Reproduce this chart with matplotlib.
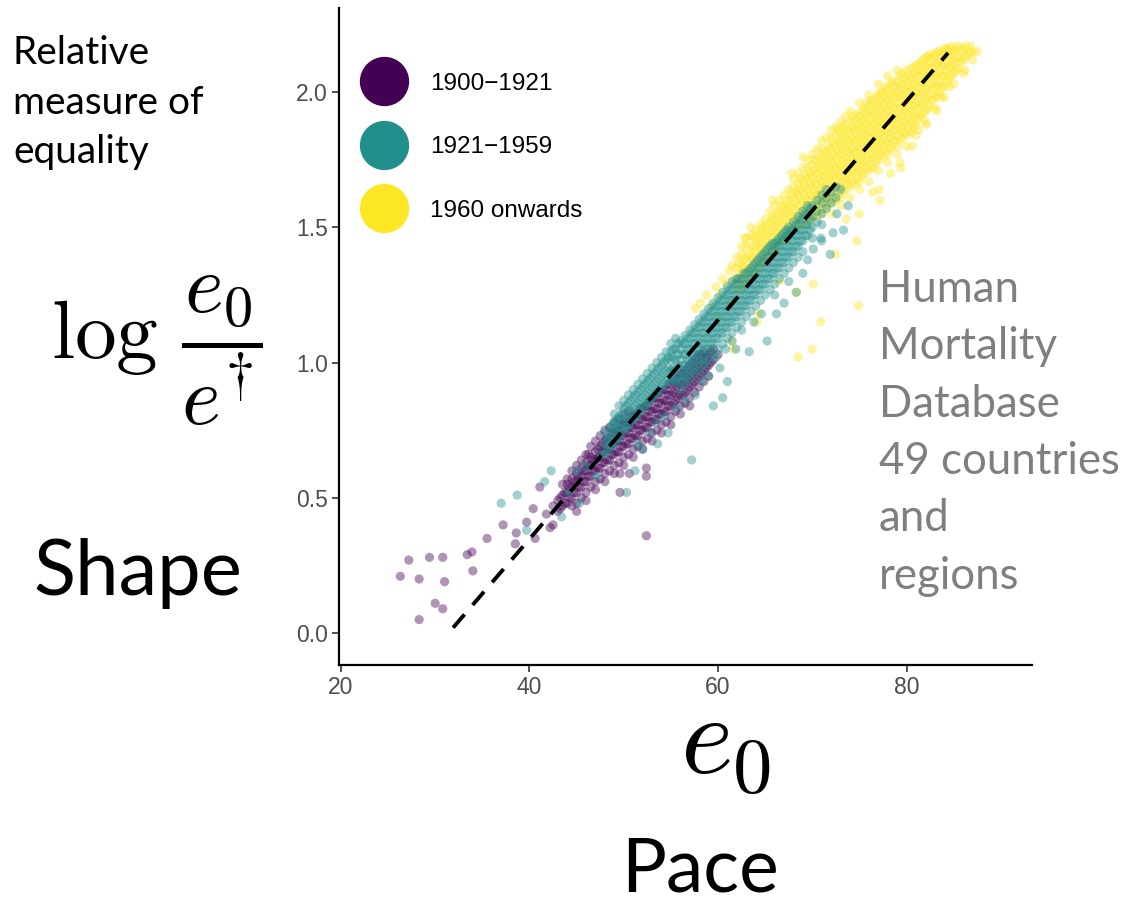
import matplotlib
matplotlib.use("Agg")
import matplotlib.pyplot as plt
from matplotlib.lines import Line2D
import numpy as np

# period labels and colours (viridis)
periods = ["1900\u22121921", "1921\u22121959", "1960 onwards"]
period_colors = ["#440154", "#21908C", "#FDE725"]

# (e0, [log(e0/e_dagger) values]), one list per period
early_cols = [
    # scattered early years
    (26.3, [0.21]), (27.2, [0.27]), (28.3, [0.05, 0.20]), (29.4, [0.28]),
    (30.0, [0.11]), (30.8, [0.09, 0.28]), (31.0, [0.19]), (33.4, [0.29]),
    (33.9, [0.30]), (34.0, [0.23]), (35.5, [0.35]), (37.2, [0.40]),
    (38.5, [0.33]), (38.6, [0.37]), (39.7, [0.41]), (40.4, [0.46]),
    (40.6, [0.35]), (41.1, [0.54]), (41.8, [0.44]), (42.2, [0.39]),
    (42.5, [0.40, 0.47]), (49.6, [0.52, 0.59]), (50.6, [0.59]), (52.4, [0.36, 0.58, 0.61]),
    # main band
    (43.00, [0.45, 0.49]), (43.25, [0.46, 0.50]), (43.50, [0.47, 0.51]), (43.75, [0.48, 0.52]),
    (44.00, [0.48, 0.52, 0.55]), (44.25, [0.50, 0.54]), (44.50, [0.50, 0.54, 0.57]),
    (44.75, [0.52, 0.56]), (45.00, [0.52, 0.56, 0.59]), (45.25, [0.54, 0.58]),
    (45.50, [0.54, 0.58, 0.61]), (45.75, [0.56, 0.60]), (46.00, [0.56, 0.60, 0.63]),
    (46.25, [0.58, 0.62, 0.66]), (46.50, [0.58, 0.62, 0.65]), (46.75, [0.60, 0.64]),
    (47.00, [0.60, 0.64, 0.67]), (47.25, [0.61, 0.65, 0.68]), (47.50, [0.61, 0.65, 0.69]),
    (47.75, [0.63, 0.67, 0.70]), (48.00, [0.63, 0.67, 0.71]), (48.25, [0.64, 0.68, 0.72]),
    (48.50, [0.64, 0.68, 0.72]), (48.75, [0.66, 0.70, 0.74]), (49.00, [0.66, 0.70, 0.74]),
    (49.25, [0.67, 0.71, 0.75]), (49.50, [0.67, 0.71, 0.75, 0.79]), (49.75, [0.69, 0.73, 0.77]),
    (50.00, [0.69, 0.73, 0.77]), (50.25, [0.70, 0.74, 0.78]), (50.50, [0.70, 0.74, 0.78, 0.82]),
    (50.75, [0.72, 0.76, 0.80]), (51.00, [0.72, 0.76, 0.80]), (51.25, [0.73, 0.77, 0.81]),
    (51.50, [0.73, 0.77, 0.81]), (51.75, [0.75, 0.79, 0.83]), (52.00, [0.75, 0.79, 0.83]),
    (52.25, [0.76, 0.80, 0.84]), (52.50, [0.76, 0.80, 0.84]), (52.75, [0.78, 0.82, 0.86]),
    (53.00, [0.78, 0.82, 0.86]), (53.25, [0.79, 0.83, 0.87]), (53.50, [0.79, 0.83, 0.87]),
    (53.75, [0.81, 0.85, 0.89]), (54.00, [0.81, 0.85, 0.89]), (54.25, [0.82, 0.86, 0.90]),
    (54.50, [0.82, 0.86, 0.90]), (54.75, [0.84, 0.88, 0.92]), (55.00, [0.84, 0.88, 0.92]),
    (55.25, [0.85, 0.89, 0.93]), (55.50, [0.86, 0.90, 0.94]), (55.75, [0.87, 0.91, 0.95]),
    (56.00, [0.88, 0.92, 0.96]), (56.25, [0.88, 0.92, 0.96]), (56.50, [0.89, 0.93, 0.97]),
    (56.75, [0.90, 0.94, 0.98]), (57.00, [0.91, 0.95, 0.99]), (57.25, [0.92, 0.96, 1.00]),
    (57.50, [0.93, 0.97, 1.01]), (57.75, [0.94, 0.98, 1.02]), (58.00, [0.95, 0.99, 1.03]),
    (58.25, [0.96, 1.00, 1.03]), (58.50, [0.97, 1.01, 1.04]), (58.75, [0.98, 1.02]),
    (59.00, [0.99, 1.03]), (59.25, [1.00, 1.04]), (59.50, [1.01, 1.05]), (60.00, [1.03]),
    # fuzzy edges of the band
    (43.5, [0.55]), (44.0, [0.57]), (44.5, [0.47, 0.60]), (45.0, [0.45, 0.48, 0.62]),
    (45.5, [0.50, 0.64]), (46.0, [0.49, 0.52, 0.66]), (46.5, [0.54, 0.69]),
    (47.0, [0.53, 0.56, 0.71]), (47.5, [0.57, 0.73]), (48.0, [0.56, 0.59, 0.75]),
    (48.5, [0.60, 0.76]), (49.0, [0.59, 0.62, 0.78]), (49.5, [0.63]), (50.0, [0.62, 0.65, 0.81]),
    (50.5, [0.66]), (51.0, [0.65, 0.68]), (51.5, [0.69]), (52.0, [0.68, 0.71]),
    (52.5, [0.72]), (53.0, [0.71, 0.74]), (53.5, [0.75]), (54.0, [0.74, 0.77]),
    (54.5, [0.78]), (55.0, [0.77, 0.80]), (55.5, [0.82]), (56.0, [0.81, 0.84]),
    (56.5, [0.85]), (57.0, [0.84, 0.87]), (57.5, [0.89]), (58.0, [0.91]), (58.5, [0.93]),
    (59.0, [0.95]),
]

mid_cols = [
    # scattered
    (37.0, [0.48]), (38.7, [0.51]), (39.7, [0.38]), (41.6, [0.56]), (42.3, [0.60]),
    (43.4, [0.43]), (44.2, [0.52]), (45.0, [0.60]), (45.3, [0.48]), (46.0, [0.62]),
    (47.1, [0.58]), (47.6, [0.66]), (50.3, [0.52]), (51.2, [0.60]), (51.5, [0.70]),
    (52.0, [0.68]), (52.8, [0.74]), (53.5, [0.78]), (53.6, [0.70]), (54.3, [0.80]),
    (54.7, [0.74]), (55.6, [0.83]), (57.2, [0.64]), (56.5, [0.86]), (57.6, [0.88]),
    (58.3, [0.93]), (59.5, [0.84]), (60.5, [0.87]), (61.0, [0.93]), (60.2, [0.98]),
    (59.0, [0.95]), (58.5, [1.00]), (59.8, [1.02]), (60.8, [1.05]), (61.5, [1.08]),
    (61.9, [1.05]), (62.5, [1.12]), (63.3, [1.04]), (63.8, [1.15]), (64.6, [1.18]),
    (65.2, [1.08]), (66.0, [1.25]), (66.2, [1.18]), (67.0, [1.22]), (67.5, [1.30]),
    (68.3, [1.26]), (69.0, [1.33]), (69.5, [1.38]), (70.1, [1.42]), (70.9, [1.46]),
    (71.0, [1.45]), (71.9, [1.40]), (72.2, [1.48]), (72.6, [1.55]), (73.3, [1.49]),
    (73.8, [1.58]),
    # main band
    (48.00, [0.66, 0.70, 0.74]), (48.25, [0.68, 0.72]), (48.50, [0.68, 0.72, 0.76]),
    (48.75, [0.70, 0.74, 0.77]), (49.00, [0.70, 0.74, 0.78]), (49.25, [0.72, 0.76, 0.79]),
    (49.50, [0.72, 0.76, 0.80]), (49.75, [0.74, 0.78, 0.81]), (50.00, [0.75, 0.79, 0.83]),
    (50.25, [0.76, 0.80, 0.84]), (50.50, [0.77, 0.81, 0.85]), (50.75, [0.78, 0.82, 0.86]),
    (51.00, [0.79, 0.83, 0.87]), (51.25, [0.80, 0.84, 0.88]), (51.50, [0.81, 0.85, 0.89]),
    (51.75, [0.82, 0.86, 0.90]), (52.00, [0.83, 0.87, 0.91]), (52.25, [0.84, 0.88, 0.92]),
    (52.50, [0.85, 0.89, 0.93]), (52.75, [0.86, 0.90, 0.94]), (53.00, [0.87, 0.91, 0.95]),
    (53.25, [0.88, 0.92, 0.96]), (53.50, [0.89, 0.93, 0.97]), (53.75, [0.90, 0.94, 0.98]),
    (54.00, [0.91, 0.95, 0.99]), (54.25, [0.92, 0.96, 1.00]), (54.50, [0.93, 0.97, 1.01]),
    (54.75, [0.94, 0.98, 1.02]), (55.00, [0.93, 0.97, 1.01, 1.04]),
    (55.25, [0.94, 0.98, 1.02, 1.05]), (55.50, [0.93, 0.97, 1.01, 1.05]),
    (55.75, [0.95, 0.99, 1.03, 1.07]), (56.00, [0.93, 0.97, 1.01, 1.05, 1.08]),
    (56.25, [0.95, 0.99, 1.03, 1.07]), (56.50, [0.95, 0.99, 1.03, 1.07, 1.10]),
    (56.75, [0.97, 1.01, 1.05, 1.09]), (57.00, [0.97, 1.01, 1.05, 1.09, 1.12]),
    (57.25, [0.99, 1.03, 1.07, 1.11]), (57.50, [0.99, 1.03, 1.07, 1.11, 1.14]),
    (57.75, [1.01, 1.05, 1.09, 1.13]), (58.00, [1.01, 1.05, 1.09, 1.13, 1.16]),
    (58.25, [1.03, 1.07, 1.11, 1.15]), (58.50, [1.03, 1.07, 1.11, 1.15, 1.18]),
    (58.75, [1.05, 1.09, 1.13, 1.17]), (59.00, [1.05, 1.09, 1.13, 1.17, 1.20]),
    (59.25, [1.07, 1.11, 1.15, 1.19]), (59.50, [1.07, 1.11, 1.15, 1.19, 1.22]),
    (59.75, [1.09, 1.13, 1.17, 1.21]), (60.00, [1.09, 1.13, 1.17, 1.21, 1.24]),
    (60.25, [1.11, 1.15, 1.19, 1.23]), (60.50, [1.11, 1.15, 1.19, 1.23, 1.26]),
    (60.75, [1.13, 1.17, 1.21, 1.25]), (61.00, [1.13, 1.17, 1.21, 1.25, 1.28]),
    (61.25, [1.15, 1.19, 1.23, 1.27]), (61.50, [1.15, 1.19, 1.23, 1.27, 1.30]),
    (61.75, [1.17, 1.21, 1.25, 1.29]), (62.00, [1.17, 1.21, 1.25, 1.29, 1.31]),
    (62.25, [1.19, 1.23, 1.27, 1.31]), (62.50, [1.19, 1.23, 1.27, 1.31]),
    (62.75, [1.21, 1.25, 1.29, 1.33]), (63.00, [1.21, 1.25, 1.29, 1.33]),
    (63.25, [1.23, 1.27, 1.31, 1.34]), (63.50, [1.23, 1.27, 1.31, 1.35]),
    (63.75, [1.25, 1.29, 1.33, 1.36]), (64.00, [1.25, 1.29, 1.33, 1.37]),
    (64.25, [1.27, 1.31, 1.35, 1.38]), (64.50, [1.27, 1.31, 1.35, 1.39]),
    (64.75, [1.29, 1.33, 1.37, 1.40]), (65.00, [1.29, 1.33, 1.37, 1.41]),
    (65.25, [1.31, 1.35, 1.39, 1.42]), (65.50, [1.31, 1.35, 1.39, 1.43]),
    (65.75, [1.33, 1.37, 1.41, 1.44]), (66.00, [1.33, 1.37, 1.41, 1.44]),
    (66.25, [1.35, 1.39, 1.43, 1.45]), (66.50, [1.35, 1.39, 1.43, 1.46]),
    (66.75, [1.37, 1.41, 1.45, 1.47]), (67.00, [1.37, 1.41, 1.45, 1.48]),
    (67.25, [1.39, 1.43, 1.47, 1.49]), (67.50, [1.39, 1.43, 1.47, 1.50]),
    (67.75, [1.41, 1.45, 1.49]), (68.00, [1.41, 1.45, 1.49, 1.52]),
    (68.25, [1.43, 1.47, 1.51]), (68.50, [1.43, 1.47, 1.51, 1.54]),
    (68.75, [1.45, 1.49, 1.53]), (69.00, [1.45, 1.49, 1.53, 1.56]),
    (69.25, [1.47, 1.51, 1.55]), (69.50, [1.47, 1.51, 1.55, 1.58]),
    (69.75, [1.49, 1.53, 1.57]), (70.00, [1.50, 1.54, 1.58]),
    (70.50, [1.52, 1.56, 1.60]), (71.00, [1.55, 1.59, 1.62]),
    (71.50, [1.57, 1.61, 1.64]), (72.00, [1.59, 1.63]), (72.50, [1.61, 1.65]), (73.00, [1.64]),
    # fuzzy edges of the band
    (49.0, [0.81]), (49.5, [0.84]), (50.0, [0.86]), (50.5, [0.88]), (51.0, [0.90]),
    (51.5, [0.92]), (52.0, [0.94]), (52.5, [0.96]), (53.0, [0.98]), (53.5, [1.00]),
    (54.0, [1.02]), (54.5, [1.04]), (55.0, [1.07]), (55.5, [1.09]),
    (56.0, [0.90]), (56.5, [0.92]), (57.0, [0.94]), (57.5, [0.96]), (58.0, [0.97]),
    (58.5, [0.99]), (59.0, [1.01]), (59.5, [1.03]), (60.0, [1.05]), (60.5, [1.07]),
    (61.0, [1.09]), (61.5, [1.11]), (62.0, [1.13]), (62.5, [1.15]), (63.0, [1.17]),
    (63.5, [1.19]), (64.0, [1.21]), (64.5, [1.23]), (65.0, [1.25]), (65.5, [1.27]),
    (66.0, [1.29]), (66.5, [1.31]), (67.0, [1.33]), (67.5, [1.35]), (68.0, [1.37]),
    (68.5, [1.39]), (69.0, [1.41]), (70.0, [1.46]), (71.0, [1.51]),
]

late_cols = [
    # scattered
    (57.6, [1.20]), (58.1, [1.22]), (58.8, [1.25]), (59.3, [1.21]), (59.8, [1.28]),
    (60.0, [1.17]), (60.2, [1.25]), (60.5, [1.31]), (60.9, [1.29]), (61.2, [1.34]),
    (61.3, [1.22]), (61.6, [1.05, 1.31]), (61.4, [1.08]), (64.1, [1.15]), (64.3, [1.18]),
    (66.5, [1.30]), (68.3, [1.26]), (68.5, [1.02]), (70.0, [1.05]), (70.1, [1.29]),
    (70.9, [1.15]), (72.5, [1.40]), (73.6, [1.53]), (74.7, [1.45]), (74.9, [1.21]),
    (75.0, [1.55]), (76.4, [1.63]), (77.1, [1.64]), (77.2, [1.60]), (78.3, [1.70]),
    (79.3, [1.74]), (79.4, [1.72]), (80.6, [1.80]), (81.3, [1.86]), (82.1, [1.88]),
    (83.2, [1.93]), (83.7, [1.98]), (84.6, [2.02]), (86.2, [2.08]), (87.0, [2.12]),
    (87.5, [2.15]), (62.8, [1.46]), (63.5, [1.50]), (65.8, [1.60]), (67.8, [1.70]),
    (69.0, [1.76]),
    # main band
    (62.00, [1.27, 1.31, 1.35]), (62.25, [1.29, 1.33, 1.37]), (62.50, [1.28, 1.32, 1.36, 1.40]),
    (62.75, [1.30, 1.34, 1.38]), (63.00, [1.31, 1.35, 1.39, 1.43]), (63.25, [1.32, 1.36, 1.40]),
    (63.50, [1.31, 1.35, 1.39, 1.43]), (63.75, [1.34, 1.38, 1.42, 1.46]),
    (64.00, [1.33, 1.37, 1.41, 1.45]), (64.25, [1.35, 1.39, 1.43, 1.47]),
    (64.50, [1.36, 1.40, 1.44, 1.48]), (64.75, [1.38, 1.42, 1.46, 1.50]),
    (65.00, [1.37, 1.41, 1.45, 1.49]), (65.25, [1.39, 1.43, 1.47, 1.51]),
    (65.50, [1.40, 1.44, 1.48, 1.52]), (65.75, [1.42, 1.46, 1.50, 1.54]),
    (66.00, [1.41, 1.45, 1.49, 1.53]), (66.25, [1.43, 1.47, 1.51, 1.55]),
    (66.50, [1.44, 1.48, 1.52, 1.56]), (66.75, [1.46, 1.50, 1.54, 1.58]),
    (67.00, [1.45, 1.49, 1.53, 1.57]), (67.25, [1.47, 1.51, 1.55, 1.59]),
    (67.50, [1.48, 1.52, 1.56, 1.60]), (67.75, [1.50, 1.54, 1.58, 1.62]),
    (68.00, [1.49, 1.53, 1.57, 1.61, 1.65]), (68.25, [1.51, 1.55, 1.59, 1.63]),
    (68.50, [1.50, 1.54, 1.58, 1.62, 1.66]), (68.75, [1.52, 1.56, 1.60, 1.64, 1.68]),
    (69.00, [1.51, 1.55, 1.59, 1.63, 1.67]), (69.25, [1.53, 1.57, 1.61, 1.65, 1.69]),
    (69.50, [1.52, 1.56, 1.60, 1.64, 1.68, 1.72]), (69.75, [1.54, 1.58, 1.62, 1.66, 1.70]),
    (70.00, [1.53, 1.57, 1.61, 1.65, 1.69, 1.73]), (70.25, [1.55, 1.59, 1.63, 1.67, 1.71, 1.75]),
    (70.50, [1.54, 1.58, 1.62, 1.66, 1.70, 1.74]), (70.75, [1.56, 1.60, 1.64, 1.68, 1.72, 1.76]),
    (71.00, [1.55, 1.59, 1.63, 1.67, 1.71, 1.75, 1.79]),
    (71.25, [1.57, 1.61, 1.65, 1.69, 1.73, 1.77]),
    (71.50, [1.58, 1.62, 1.66, 1.70, 1.74, 1.78]),
    (71.75, [1.60, 1.64, 1.68, 1.72, 1.76, 1.80]),
    (72.00, [1.59, 1.63, 1.67, 1.71, 1.75, 1.79, 1.83]),
    (72.25, [1.61, 1.65, 1.69, 1.73, 1.77, 1.81]),
    (72.50, [1.60, 1.64, 1.68, 1.72, 1.76, 1.80, 1.84]),
    (72.75, [1.62, 1.66, 1.70, 1.74, 1.78, 1.82, 1.86]),
    (73.00, [1.61, 1.65, 1.69, 1.73, 1.77, 1.81, 1.85]),
    (73.25, [1.63, 1.67, 1.71, 1.75, 1.79, 1.83, 1.87]),
    (73.50, [1.64, 1.68, 1.72, 1.76, 1.80, 1.84, 1.88]),
    (73.75, [1.66, 1.70, 1.74, 1.78, 1.82, 1.86]),
    (74.00, [1.65, 1.69, 1.73, 1.77, 1.81, 1.85, 1.89]),
    (74.25, [1.67, 1.71, 1.75, 1.79, 1.83, 1.87, 1.91]),
    (74.50, [1.66, 1.70, 1.74, 1.78, 1.82, 1.86, 1.90]),
    (74.75, [1.68, 1.72, 1.76, 1.80, 1.84, 1.88, 1.92]),
    (75.00, [1.67, 1.71, 1.75, 1.79, 1.83, 1.87, 1.91]),
    (75.25, [1.69, 1.73, 1.77, 1.81, 1.85, 1.89, 1.93]),
    (75.50, [1.70, 1.74, 1.78, 1.82, 1.86, 1.90, 1.94]),
    (75.75, [1.72, 1.76, 1.80, 1.84, 1.88, 1.92, 1.96]),
    (76.00, [1.71, 1.75, 1.79, 1.83, 1.87, 1.91, 1.95]),
    (76.25, [1.73, 1.77, 1.81, 1.85, 1.89, 1.93, 1.97]),
    (76.50, [1.72, 1.76, 1.80, 1.84, 1.88, 1.92, 1.96]),
    (76.75, [1.74, 1.78, 1.82, 1.86, 1.90, 1.94, 1.98]),
    (77.00, [1.75, 1.79, 1.83, 1.87, 1.91, 1.95, 1.99]),
    (77.25, [1.77, 1.81, 1.85, 1.89, 1.93, 1.97, 2.00]),
    (77.50, [1.76, 1.80, 1.84, 1.88, 1.92, 1.96, 2.00]),
    (77.75, [1.78, 1.82, 1.86, 1.90, 1.94, 1.98, 2.02]),
    (78.00, [1.77, 1.81, 1.85, 1.89, 1.93, 1.97, 2.01]),
    (78.25, [1.79, 1.83, 1.87, 1.91, 1.95, 1.99, 2.03]),
    (78.50, [1.80, 1.84, 1.88, 1.92, 1.96, 2.00, 2.04]),
    (78.75, [1.82, 1.86, 1.90, 1.94, 1.98, 2.02]),
    (79.00, [1.80, 1.84, 1.88, 1.92, 1.96, 2.00, 2.04]),
    (79.25, [1.82, 1.86, 1.90, 1.94, 1.98, 2.02, 2.06]),
    (79.50, [1.83, 1.87, 1.91, 1.95, 1.99, 2.03, 2.07]),
    (79.75, [1.85, 1.89, 1.93, 1.97, 2.01, 2.05]),
    (80.00, [1.84, 1.88, 1.92, 1.96, 2.00, 2.04, 2.08]),
    (80.25, [1.86, 1.90, 1.94, 1.98, 2.02, 2.06]),
    (80.50, [1.85, 1.89, 1.93, 1.97, 2.01, 2.05, 2.09]),
    (80.75, [1.87, 1.91, 1.95, 1.99, 2.03, 2.07]),
    (81.00, [1.88, 1.92, 1.96, 2.00, 2.04, 2.08, 2.10]),
    (81.25, [1.90, 1.94, 1.98, 2.02, 2.06, 2.10]),
    (81.50, [1.91, 1.95, 1.99, 2.03, 2.07, 2.11]),
    (81.75, [1.92, 1.96, 2.00, 2.04, 2.08, 2.12]),
    (82.00, [1.93, 1.97, 2.01, 2.05, 2.09, 2.13]),
    (82.25, [1.94, 1.98, 2.02, 2.06, 2.10, 2.13]),
    (82.50, [1.95, 1.99, 2.03, 2.07, 2.11, 2.14]),
    (82.75, [1.97, 2.01, 2.05, 2.09, 2.13]), (83.00, [1.98, 2.02, 2.06, 2.10, 2.14]),
    (83.25, [1.99, 2.03, 2.07, 2.11, 2.15]), (83.50, [2.00, 2.04, 2.08, 2.12, 2.15]),
    (83.75, [2.02, 2.06, 2.10, 2.14]), (84.00, [2.02, 2.06, 2.10, 2.14, 2.16]),
    (84.25, [2.04, 2.08, 2.12, 2.16]), (84.50, [2.05, 2.09, 2.13, 2.16]),
    (84.75, [2.06, 2.10, 2.14, 2.17]), (85.00, [2.07, 2.11, 2.15]),
    (85.25, [2.08, 2.12, 2.16]), (85.50, [2.09, 2.13, 2.17]), (85.75, [2.11, 2.15]),
    (86.00, [2.12, 2.16]), (86.25, [2.13, 2.17]), (86.50, [2.14]), (86.75, [2.15, 2.17]),
    (87.00, [2.15]),
    # fuzzy edges of the band
    (61.5, [1.36]), (62.0, [1.39]), (62.5, [1.43]), (63.0, [1.46]), (63.5, [1.47]),
    (64.0, [1.49]), (64.5, [1.51]), (65.0, [1.53]), (65.5, [1.56]), (66.0, [1.58]),
    (66.5, [1.60]), (67.0, [1.62]), (67.5, [1.64]), (68.0, [1.68]), (68.5, [1.70]),
    (69.0, [1.72]), (69.5, [1.75]), (70.0, [1.77]), (70.5, [1.79]), (71.0, [1.82]),
    (71.5, [1.83]), (72.0, [1.55, 1.86]), (72.5, [1.87]), (73.0, [1.58, 1.89]),
    (73.5, [1.91]), (74.0, [1.61, 1.93]), (75.0, [1.64, 1.96]), (76.0, [1.67, 1.99]),
    (77.0, [1.71, 2.03]), (78.0, [1.74, 2.06]), (79.0, [1.77, 2.08]), (80.0, [1.80]),
    (81.0, [1.84]), (82.0, [1.89]), (83.0, [1.94]), (84.0, [1.98]), (85.0, [2.03]),
    (86.0, [2.07]),
]

# dashed reference line end points
line_e0 = [31.9, 84.4]
line_shape = [0.02, 2.145]

x_ticks = [20, 40, 60, 80]
y_ticks = [0.0, 0.5, 1.0, 1.5, 2.0]

info_lines = ["Human", "Mortality", "Database", "49 countries", "and", "regions"]
left_lines = ["Relative", "measure of", "equality"]


def flatten(cols):
    xs = []
    ys = []
    for x, vals in cols:
        for v in vals:
            xs.append(x)
            ys.append(v)
    return np.array(xs), np.array(ys)


W, H = 1124, 897
plt.rcParams['mathtext.fontset'] = 'cm'

fig = plt.figure(figsize=(W / 100, H / 100), dpi=100)
ax = fig.add_axes([339 / W, 1 - 665 / H, (1032 - 339) / W, (665 - 8) / H])

# purple first, then yellow, teal on top
for cols, color, z in zip([early_cols, late_cols, mid_cols],
                          [period_colors[0], period_colors[2], period_colors[1]], [2, 3, 4]):
    xs, ys = flatten(cols)
    ax.scatter(xs, ys, s=44, color=color, alpha=0.42, edgecolors='none', zorder=z)

ax.plot(line_e0, line_shape, color='black', lw=2.8, ls=(0, (4.5, 3.2)), zorder=6)

ax.set_xlim(19.8, 93.3)
ax.set_ylim(-0.118, 2.311)
ax.set_xticks(x_ticks)
ax.set_yticks(y_ticks)
ax.set_yticklabels([f"{v:.1f}" for v in y_ticks])
for side in ['top', 'right']:
    ax.spines[side].set_visible(False)
for side in ['left', 'bottom']:
    ax.spines[side].set_linewidth(1.6)
ax.tick_params(length=5, width=1.2, color='#333333', labelsize=16.5,
               labelcolor='#4d4d4d', pad=3)
for lab in ax.get_xticklabels() + ax.get_yticklabels():
    lab.set_family('Liberation Sans')

handles = [Line2D([], [], marker='o', ls='', ms=34.5, color=c) for c in period_colors]
ax.legend(handles, periods, loc='upper left', bbox_to_anchor=(357 / W, 1 - 63 / H),
          bbox_transform=fig.transFigure, frameon=False,
          handlelength=1.4, handletextpad=1.2, labelspacing=1.71,
          borderaxespad=0, borderpad=0.4,
          prop={'family': 'Liberation Sans', 'size': 17.5})

# side annotations
for i, t in enumerate(left_lines):
    fig.text(13 / W, 1 - (63.5 + 50 * i) / H, t, fontsize=28, family='Lato',
             va='baseline', ha='left', color='black')

fig.text(157 / W, 1 - 351 / H, r'$\log\,\dfrac{e_0}{e^{\dagger}}$', fontsize=60,
         ha='center', va='center')
fig.text(33 / W, 1 - 595 / H, 'Shape', fontsize=56, family='Lato', va='baseline')

fig.text(725 / W, 1 - 743 / H, r'$e_0$', fontsize=81, ha='center', va='center')
fig.text(621 / W, 1 - 891 / H, 'Pace', fontsize=54, family='Lato', va='baseline')

for i, t in enumerate(info_lines):
    fig.text(879 / W, 1 - (302 + 57.3 * i) / H, t, fontsize=31.5, family='Lato',
             va='baseline', ha='left', color='#7f7f7f')

fig.savefig("out.png", dpi=100)
